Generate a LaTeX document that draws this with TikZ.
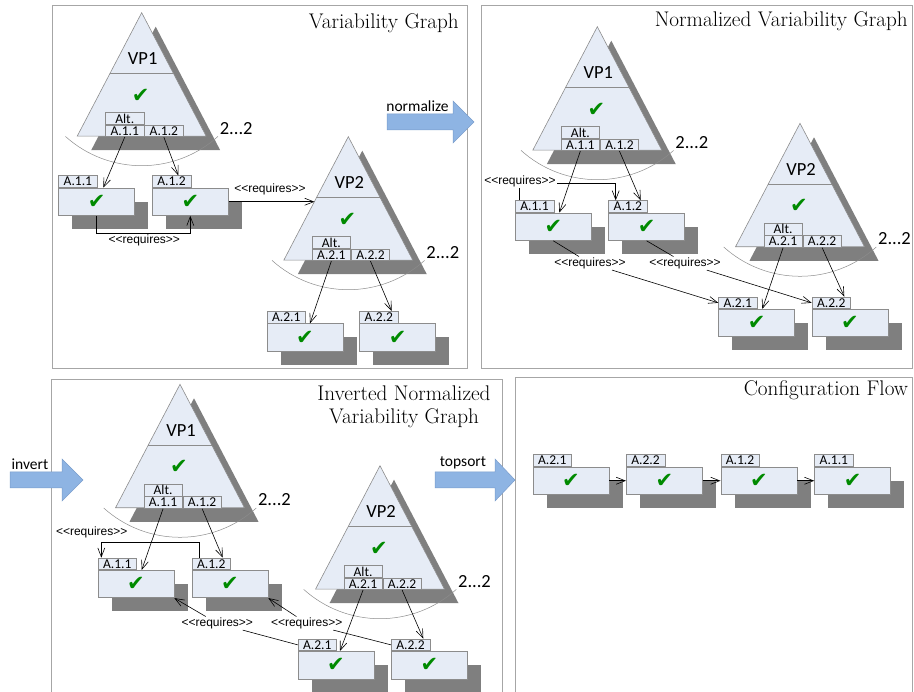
\documentclass[tikz,border=0pt]{standalone}
\usepackage{fontspec}
\usetikzlibrary{calc,arrows.meta}
\newfontfamily\carlito{Carlito}
\newfontfamily\libsans{Liberation Sans}
\newfontfamily\djv{DejaVu Sans}
\definecolor{boxfill}{HTML}{E6ECF6}
\definecolor{boxline}{HTML}{8C8C8C}
\definecolor{shadowc}{HTML}{7F7F7F}
\definecolor{ckgreen}{HTML}{008A00}
\definecolor{panelline}{HTML}{A6A6A6}
\definecolor{arrowfill}{HTML}{8EB4E3}
\definecolor{arrowline}{HTML}{7A9CCB}
\newcommand{\ck}{\textcolor{ckgreen}{\djv\fontsize{21}{21}\selectfont ✔}}
\newcommand{\req}{<\kern0pt<requires>\kern0pt>}
\tikzset{
 shapeline/.style={draw=boxline, fill=boxfill, line width=0.6pt},
 cellbox/.style={shapeline, minimum width=38.5pt, minimum height=11.7pt, inner sep=0pt, font=\carlito\fontsize{13.5}{13.5}\selectfont},
 bodybox/.style={shapeline, minimum width=76pt, minimum height=27.5pt, inner sep=0pt},
 vptext/.style={font=\carlito\fontsize{18.5}{18.5}\selectfont, inner sep=0pt},
 multtext/.style={font=\carlito\fontsize{18.5}{18.5}\selectfont, inner sep=0pt},
 reqlabel/.style={font=\libsans\fontsize{12}{12}\selectfont, inner sep=1pt},
 conn/.style={draw=black, line width=0.6pt},
 arr/.style={conn, -{Straight Barb[length=9pt,width=7pt]}},
 arcline/.style={draw=boxline, line width=0.5pt},
 panel/.style={draw=panelline, line width=0.8pt},
 title/.style={font=\fontsize{21.2}{24}\selectfont, inner sep=0pt},
 blockarrow/.style={fill=arrowfill, draw=arrowline, line width=0.5pt},
 steplabel/.style={font=\carlito\fontsize{15.5}{15.5}\selectfont, inner sep=0pt},
}
\newcommand{\vpgroup}[4]{%
 \coordinate (#1) at (#2,#3);
 \coordinate (#1-bl) at (#2-64.5,#3+123.5);
 \coordinate (#1-br) at (#2+64.5,#3+123.5);
 \fill[shadowc] (#2+14,#3+14) -- (#2+78.5,#3+137.5) -- (#2-50.5,#3+137.5) -- cycle;
 \draw[shapeline] (#1) -- (#1-br) -- (#1-bl) -- cycle;
 \draw[draw=boxline, line width=0.6pt] (#2-32,#3+61) -- (#2+32,#3+61);
 \node[vptext] (#1-name) at (#2+1,#3+46) {VP#4};
 \node[inner sep=0pt] (#1-check) at (#2-1,#3+83) {\ck};
 \node[cellbox, anchor=north west] (#1-alt) at (#2-36.5,#3+99.8) {Alt.};
 \node[cellbox, anchor=north west] (#1-c1) at (#1-alt.south west) {A.#4.1};
 \node[cellbox, anchor=north west] (#1-c2) at (#1-c1.north east) {A.#4.2};
 \draw[arcline] ($(#1)+(0,39)+(132:114)$) arc[start angle=132, end angle=48, radius=114];
 \node[multtext] (#1-mult) at (#2+94.5,#3+115.5) {2...2};
}
\newcommand{\featbox}[4]{%
 \fill[shadowc] (#2+14,#3+25.7) rectangle (#2+90,#3+53.2);
 \node[bodybox, anchor=north west] (#1) at (#2,#3+11.7) {\ck};
 \node[cellbox, anchor=south west] (#1t) at (#1.north west) {#4};
}
\begin{document}
\begin{tikzpicture}[x=1pt,y=-1pt]
\useasboundingbox (0,0) rectangle (914,692);
% panels
\draw[panel] (52.5,5.5) rectangle (467,368);
\draw[panel] (481.5,5.5) rectangle (912,368);
\draw[panel] (51,692) -- (51,379) -- (502,379) -- (502,692);
\draw[panel] (515,692) -- (515,377) -- (912,377) -- (912,692);
% titles
\node[title, anchor=base east] (t1) at (459,28.3) {Variability Graph};
\node[title, anchor=base east] (t2) at (908,26.7) {Normalized Variability Graph};
\node[title, anchor=base] (t3a) at (404,401) {Inverted Normalized};
\node[title, anchor=base] (t3b) at (404,423.3) {Variability Graph};
\node[title, anchor=base east] (t4) at (908.3,395.7) {Configuration Flow};
% block arrows
\draw[blockarrow] (387,114) -- (453,114) -- (453,101) -- (474,122) -- (453,143) -- (453,130) -- (387,130) -- cycle;
\node[steplabel, anchor=base] (lnorm) at (417.5,112) {normalize};
\draw[blockarrow] (10,472) -- (62,472) -- (62,459) -- (83,480) -- (62,501) -- (62,488) -- (10,488) -- cycle;
\node[steplabel, anchor=base] (linv) at (30,470) {invert};
\draw[blockarrow] (435,472) -- (495,472) -- (495,459) -- (515,480) -- (495,501) -- (495,488) -- (435,488) -- cycle;
\node[steplabel, anchor=base] (ltop) at (463,467) {topsort};
% ---------- panel 1
\vpgroup{p1v1}{141.7}{12.7}{1}
\vpgroup{p1v2}{348.3}{136.7}{2}
\featbox{p1a11}{58.3}{176}{A.1.1}
\featbox{p1a12}{152}{176}{A.1.2}
\featbox{p1a21}{266.7}{311.7}{A.2.1}
\featbox{p1a22}{359.3}{311.7}{A.2.2}
\coordinate (p1v2e) at ($(p1v2)!0.524!(p1v2-bl)$);
\draw[arr] (p1v1-c1.south) -- ($(p1a11.north west)+(45,0)$);
\draw[arr] (p1v1-c2.south) -- ($(p1a12t.north west)+(26.3,0)$);
\draw[arr] (p1a11.south) -- ++(0,17.3) -| (p1a12.south);
\node[reqlabel] (p1r1) at (144.3,240.7) {\req};
\draw[arr] (p1a12.east) -- (p1a12.east -| p1v2e);
\node[reqlabel] (p1r2) at (270,189.3) {\req};
\draw[arr] (p1v2-c1.south) -- ($(p1a21.north west)+(43.3,0)$);
\draw[arr] (p1v2-c2.south) -- ($(p1a22t.north west)+(32.4,0)$);
% ---------- panel 2
\vpgroup{p2v1}{597.3}{26.7}{1}
\vpgroup{p2v2}{800}{123.3}{2}
\featbox{p2a11}{515}{201}{A.1.1}
\featbox{p2a12}{608.3}{201}{A.1.2}
\featbox{p2a21}{718.3}{297.3}{A.2.1}
\featbox{p2a22}{811.7}{297.3}{A.2.2}
\draw[arr] (p2v1-c1.south) -- ($(p2a11.north west)+(44.3,0)$);
\draw[arr] (p2v1-c2.south) -- ($(p2a12t.north west)+(32.4,0)$);
\draw[arr] ($(p2a11t.north west)+(4.3,0)$) |- ($(p2a12t.north west)+(7.4,-17)$) -- ($(p2a12t.north west)+(7.4,0)$);
\node[reqlabel, fill=white] (p2r1) at (520,181.5) {\req};
\node[reqlabel, fill=white] (p2r2) at (590,263.3) {\req};
\node[reqlabel, fill=white] (p2r3) at (685,263.3) {\req};
\draw[arr] (p2a11.south) -- (p2r2) -- (p2a21t.west);
\draw[arr] (p2a12.south) -- (p2r3) -- (p2a22t.west);
\draw[arr] (p2v2-c1.south) -- ($(p2a21.north west)+(44,0)$);
\draw[arr] (p2v2-c2.south) -- ($(p2a22t.north west)+(32.6,0)$);
% ---------- panel 3
\vpgroup{p3v1}{180}{384.3}{1}
\vpgroup{p3v2}{380}{465.7}{2}
\featbox{p3a11}{97.7}{558.3}{A.1.1}
\featbox{p3a12}{191.7}{558.3}{A.1.2}
\featbox{p3a21}{297.7}{639.3}{A.2.1}
\featbox{p3a22}{391}{639.3}{A.2.2}
\draw[arr] (p3v1-c1.south) -- ($(p3a11.north west)+(44,0)$);
\draw[arr] (p3v1-c2.south) -- ($(p3a12t.north west)+(31,0)$);
\draw[arr] ($(p3a12t.north west)+(7.6,0)$) |- ($(p3a11t.north west)+(3.6,-15.6)$) -- ($(p3a11t.north west)+(3.6,0)$);
\node[reqlabel] (p3r1) at (91.7,532.3) {\req};
\node[reqlabel, fill=white] (p3r2) at (217.3,623.3) {\req};
\node[reqlabel, fill=white] (p3r3) at (306.7,623.3) {\req};
\draw[arr] (p3a21t.west) -- (p3r2) -- (p3a11.south east);
\draw[arr] (p3a22t.west) -- (p3r3) -- (p3a12.south east);
\draw[arr] (p3v2-c1.south) -- ($(p3a21.north west)+(42.3,0)$);
\draw[arr] (p3v2-c2.south) -- ($(p3a22t.north west)+(32.3,0)$);
% ---------- panel 4
\featbox{p4a21}{532.7}{455}{A.2.1}
\featbox{p4a22}{626}{455}{A.2.2}
\featbox{p4a12}{720.5}{455}{A.1.2}
\featbox{p4a11}{814.3}{455}{A.1.1}
\draw[arr] (p4a21.east) -- (p4a22.west);
\draw[arr] (p4a22.east) -- (p4a12.west);
\draw[arr] (p4a12.east) -- (p4a11.west);
\end{tikzpicture}
\end{document}
